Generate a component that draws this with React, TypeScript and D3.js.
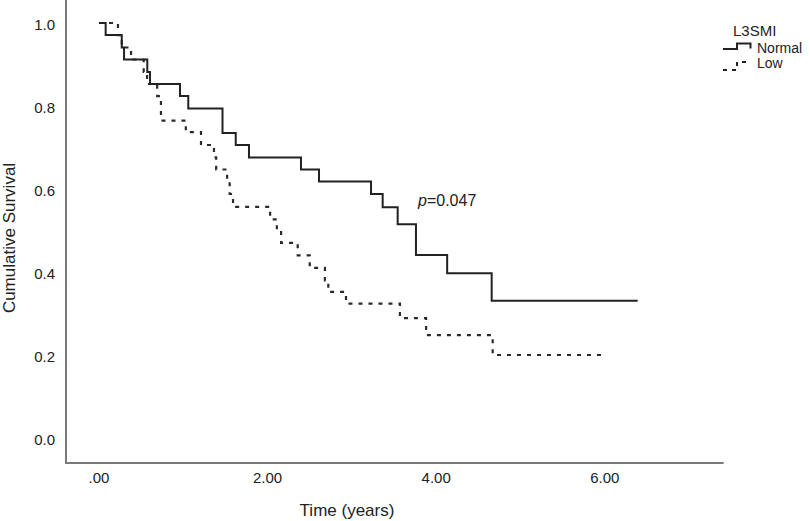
import React from "react";
import * as d3 from "d3";

const normalTimes = [0, 0.079, 0.27, 0.297, 0.573, 0.605, 0.961, 1.059, 1.465, 1.622, 1.779, 2.396, 2.61, 3.227, 3.365, 3.543, 3.76, 4.13, 4.658, 6.39];
const normalSurv = [1.0, 0.971, 0.941, 0.912, 0.882, 0.853, 0.824, 0.794, 0.735, 0.706, 0.676, 0.647, 0.618, 0.588, 0.556, 0.515, 0.441, 0.397, 0.331, 0.331];

const lowTimes = [0, 0.225, 0.27, 0.38, 0.53, 0.57, 0.69, 0.735, 1.03, 1.21, 1.364, 1.39, 1.52, 1.55, 1.59, 2.03, 2.11, 2.16, 2.357, 2.5, 2.68, 2.72, 2.93, 3.57, 3.88, 4.67, 6.01];
const lowSurv = [1.0, 0.971, 0.941, 0.912, 0.882, 0.853, 0.824, 0.765, 0.737, 0.706, 0.676, 0.647, 0.618, 0.588, 0.557, 0.527, 0.5, 0.47, 0.44, 0.41, 0.38, 0.352, 0.324, 0.289, 0.248, 0.2, 0.2];

const xTicks = [0, 2, 4, 6];
const xTickLabels = [".00", "2.00", "4.00", "6.00"];
const yTicks = [0, 0.2, 0.4, 0.6, 0.8, 1.0];
const yTickLabels = ["0.0", "0.2", "0.4", "0.6", "0.8", "1.0"];

const W = 810;
const H = 521;
const FONT = "'Liberation Sans', Arial, Helvetica, sans-serif";

export default function App() {
  const x = d3.scaleLinear().domain([0, 6]).range([99, 604.8]);
  const y = d3.scaleLinear().domain([0, 1]).range([438, 23]);

  const axisLeft = 66;
  const axisBottom = 463;
  const axisRight = x(7.41);

  const line = d3
    .line<[number, number]>()
    .x((d) => x(d[0]))
    .y((d) => y(d[1]))
    .curve(d3.curveStepAfter);

  const normalData: [number, number][] = normalTimes.map((t, i) => [t, normalSurv[i]]);
  const lowData: [number, number][] = lowTimes.map((t, i) => [t, lowSurv[i]]);

  const legendSolid = "M723,49 H737 V43.5 H750.5 V48.5";
  const legendDash = "M723,70 H737 V62 H751";

  return (
    <svg
      width={W}
      height={H}
      style={{ position: "absolute", left: 0, top: 0, background: "#fff" }}
      fontFamily={FONT}
    >
      <rect x={0} y={0} width={W} height={H} fill="#fff" />
      {/* axes */}
      <line x1={axisLeft} x2={axisLeft} y1={0} y2={axisBottom} stroke="#7a7a7a" strokeWidth={2} />
      <line x1={axisLeft - 1} x2={axisRight} y1={axisBottom} y2={axisBottom} stroke="#7a7a7a" strokeWidth={2} />

      {/* y ticks */}
      {yTicks.map((v, i) => (
        <text key={"y" + i} x={55} y={y(v) + 2} dy="0.35em" textAnchor="end" fontSize={15} fill="#222">
          {yTickLabels[i]}
        </text>
      ))}
      {/* x ticks */}
      {xTicks.map((t, i) => (
        <text key={"x" + i} x={x(t)} y={483} textAnchor="middle" fontSize={15} fill="#222">
          {xTickLabels[i]}
        </text>
      ))}

      {/* axis titles */}
      <text x={347} y={516} textAnchor="middle" fontSize={17} fill="#222">
        Time (years)
      </text>
      <text
        transform={`translate(15,238) rotate(-90)`}
        textAnchor="middle"
        fontSize={17}
        fill="#222"
      >
        Cumulative Survival
      </text>

      {/* curves */}
      <path d={line(lowData) || ""} fill="none" stroke="#2a2a2a" strokeWidth={2.2} strokeDasharray="4,6" />
      <path d={line(normalData) || ""} fill="none" stroke="#222" strokeWidth={2} />

      {/* p value */}
      <text x={418} y={206} fontSize={16} fill="#222">
        <tspan fontStyle="italic">p</tspan>=0.047
      </text>

      {/* legend */}
      <text x={733} y={36} fontSize={15} fill="#222">L3SMI</text>
      <path d={legendSolid} fill="none" stroke="#222" strokeWidth={2} />
      <text x={757} y={52.5} fontSize={14} fill="#222">Normal</text>
      <path d={legendDash} fill="none" stroke="#222" strokeWidth={2} strokeDasharray="4,5" />
      <text x={757} y={68} fontSize={14} fill="#222">Low</text>
    </svg>
  );
}
